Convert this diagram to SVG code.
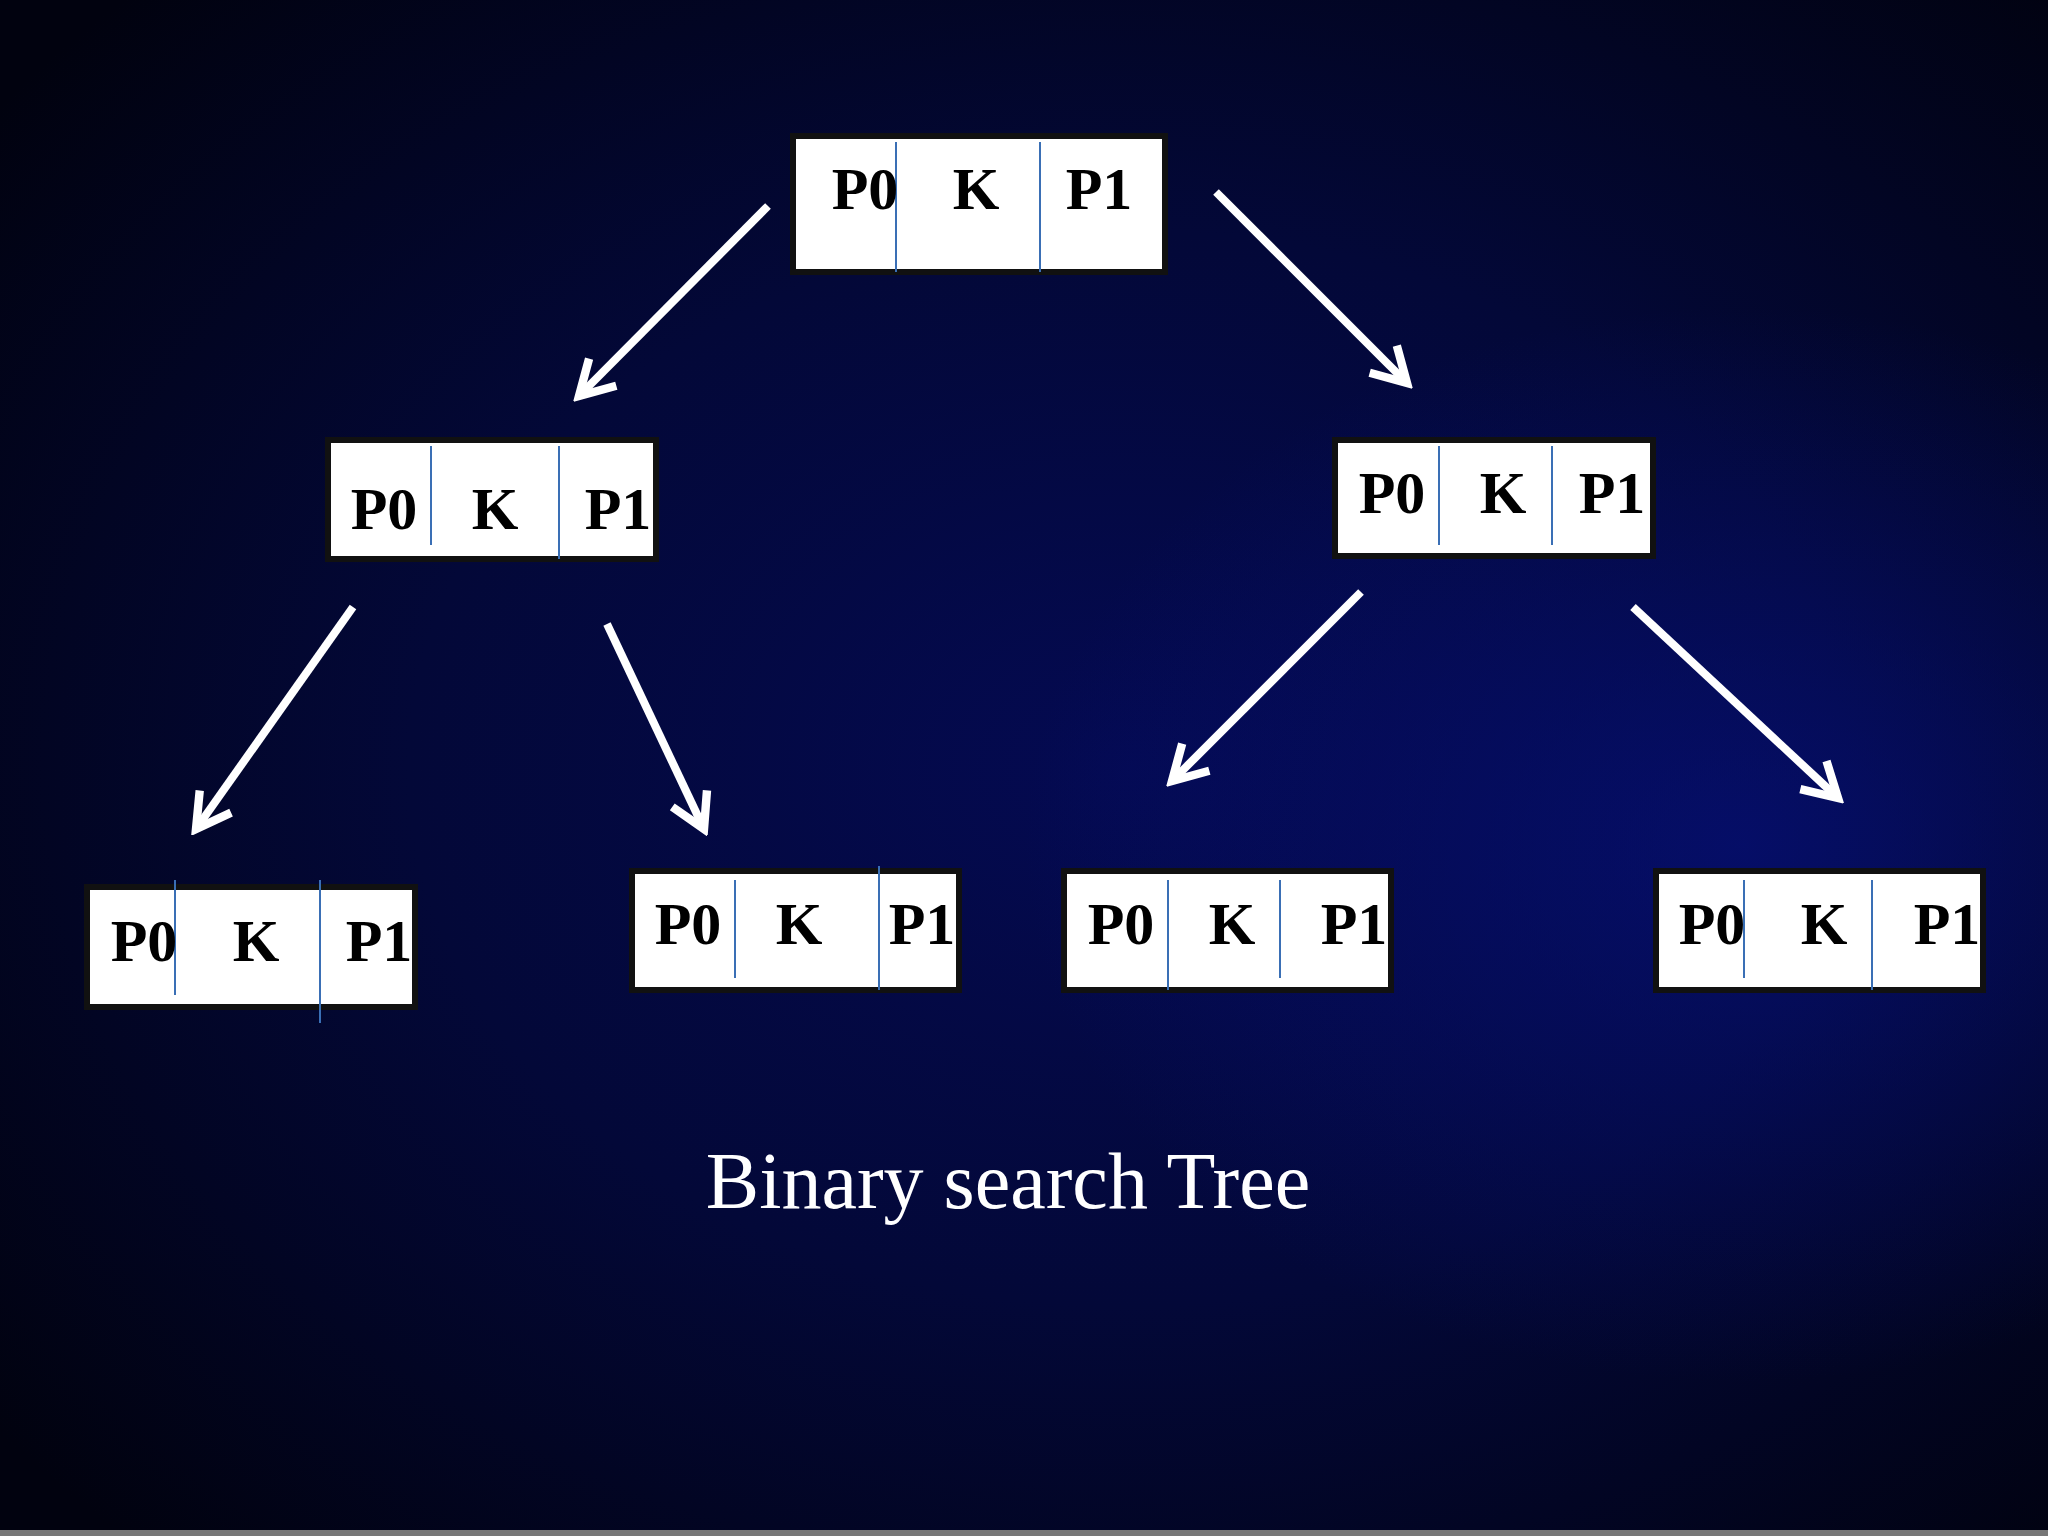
<svg xmlns="http://www.w3.org/2000/svg" width="2048" height="1536" viewBox="0 0 2048 1536">
<defs>
<radialGradient id="g1" cx="0.55" cy="0.5" r="0.7">
<stop offset="0" stop-color="#040a52"/><stop offset="0.5" stop-color="#030838"/><stop offset="1" stop-color="#01020f"/>
</radialGradient>
<radialGradient id="g2" cx="0.85" cy="0.55" r="0.35">
<stop offset="0" stop-color="#06107a" stop-opacity="0.7"/><stop offset="1" stop-color="#06107a" stop-opacity="0"/>
</radialGradient>
<marker id="ah" viewBox="0 0 20 20" refX="17" refY="10" markerWidth="6" markerHeight="6" markerUnits="strokeWidth" orient="auto">
<polyline points="3,2 17,10 3,18" fill="none" stroke="#fff" stroke-width="3.5"/>
</marker>
<style>
.box{fill:#fff;stroke:#111;stroke-width:6}
.div{stroke:#3a6fb5;stroke-width:2}
.t{font-family:"Liberation Serif",serif;font-weight:bold;font-size:60px;fill:#000;text-anchor:middle}
.a{stroke:#fff;stroke-width:8;fill:none;marker-end:url(#ah)}
</style>
</defs>
<rect width="2048" height="1536" fill="url(#g1)"/>
<rect width="2048" height="1536" fill="url(#g2)"/>
<rect y="1530" width="2048" height="6" fill="#777"/>
<g id="connectors">
<line class="a" x1="768" y1="206" x2="579" y2="396"/>
<line class="a" x1="1216" y1="192" x2="1407" y2="383"/>
<line class="a" x1="353" y1="607" x2="196" y2="829"/>
<line class="a" x1="607" y1="624" x2="704" y2="829"/>
<line class="a" x1="1361" y1="592" x2="1172" y2="781"/>
<line class="a" x1="1633" y1="607" x2="1838" y2="798"/>
</g>
<g id="root"><rect class="box" x="793" y="136" width="372" height="136"/><line class="div" x1="896" y1="142" x2="896" y2="272"/><line class="div" x1="1040" y1="142" x2="1040" y2="272"/><text class="t" x="865" y="209">P0</text><text class="t" x="976" y="209">K</text><text class="t" x="1099" y="209">P1</text></g>
<g id="left"><rect class="box" x="328" y="440" width="328" height="119"/><line class="div" x1="431" y1="446" x2="431" y2="545"/><line class="div" x1="559" y1="446" x2="559" y2="559"/><text class="t" x="384" y="529">P0</text><text class="t" x="495" y="529">K</text><text class="t" x="618" y="529">P1</text></g>
<g id="right"><rect class="box" x="1335" y="440" width="318" height="116"/><line class="div" x1="1439" y1="446" x2="1439" y2="545"/><line class="div" x1="1552" y1="446" x2="1552" y2="545"/><text class="t" x="1392" y="513">P0</text><text class="t" x="1503" y="513">K</text><text class="t" x="1612" y="513">P1</text></g>
<g id="ll"><rect class="box" x="87" y="887" width="328" height="120"/><line class="div" x1="175" y1="880" x2="175" y2="995"/><line class="div" x1="320" y1="880" x2="320" y2="1023"/><text class="t" x="144" y="961">P0</text><text class="t" x="256" y="961">K</text><text class="t" x="379" y="961">P1</text></g>
<g id="lr"><rect class="box" x="632" y="871" width="327" height="119"/><line class="div" x1="735" y1="880" x2="735" y2="978"/><line class="div" x1="879" y1="866" x2="879" y2="990"/><text class="t" x="688" y="944">P0</text><text class="t" x="799" y="944">K</text><text class="t" x="922" y="944">P1</text></g>
<g id="rl"><rect class="box" x="1064" y="871" width="327" height="119"/><line class="div" x1="1168" y1="880" x2="1168" y2="990"/><line class="div" x1="1280" y1="880" x2="1280" y2="978"/><text class="t" x="1121" y="944">P0</text><text class="t" x="1232" y="944">K</text><text class="t" x="1354" y="944">P1</text></g>
<g id="rr"><rect class="box" x="1656" y="871" width="327" height="119"/><line class="div" x1="1744" y1="880" x2="1744" y2="978"/><line class="div" x1="1872" y1="880" x2="1872" y2="990"/><text class="t" x="1712" y="944">P0</text><text class="t" x="1824" y="944">K</text><text class="t" x="1947" y="944">P1</text></g>
<text x="1008" y="1208" font-family="Liberation Serif,serif" font-size="80" fill="#fff" text-anchor="middle">Binary search Tree</text>
</svg>
